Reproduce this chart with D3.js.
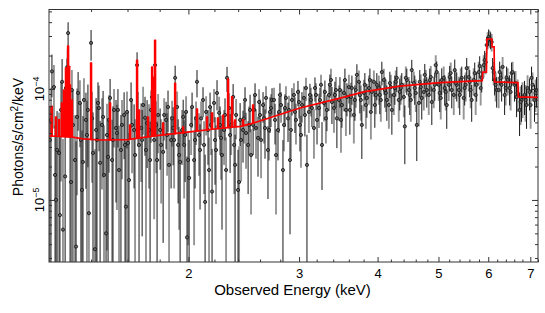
<!DOCTYPE html>
<html><head><meta charset="utf-8">
<script src="https://cdn.jsdelivr.net/npm/d3@7"></script>
<style>
html,body{margin:0;padding:0;background:#fff}
svg{display:block}
text{font-family:"Liberation Sans",Arial,Helvetica,sans-serif;fill:#000}
</style>
</head><body>
<svg id="chart" width="545" height="313"></svg>
<script>
// ---------------- DATA (energy in keV, flux in units of 1e-5 photons/s/cm^2/keV) ----------------
const FLUX_UNIT = 1e-5;

// dataset A (dark error bars)
const energyA = [1.204,1.213,1.227,1.236,1.249,1.259,1.273,1.282,1.287,1.301,1.310,1.325,1.335,1.349,1.359,1.374,1.384,1.400,1.410,1.426,1.436,1.447,1.463,1.479,1.490,1.501,1.517,1.534,1.545,1.562,1.580,1.591,1.603,1.621,1.639,1.657,1.669,1.688,1.706,1.719,1.738,1.751,1.770,1.783,1.803,1.823,1.843,1.856,1.877,1.891,1.905,1.926,1.940,1.962,1.976,1.990,2.005,2.027,2.049,2.064,2.087,2.110,2.126,2.149,2.165,2.181,2.205,2.221,2.246,2.262,2.287,2.304,2.330,2.356,2.373,2.399,2.417,2.443,2.461,2.489,2.507,2.535,2.553,2.581,2.600,2.629,2.648,2.677,2.697,2.717,2.747,2.777,2.797,2.828,2.849,2.881,2.902,2.923,2.955,2.988,3.010,3.032,3.065,3.088,3.122,3.145,3.180,3.204,3.239,3.263,3.298,3.322,3.359,3.384,3.421,3.446,3.485,3.510,3.549,3.575,3.614,3.641,3.681,3.708,3.749,3.776,3.818,3.846,3.889,3.917,3.960,3.989,4.033,4.063,4.108,4.138,4.184,4.215,4.261,4.292,4.339,4.371,4.420,4.452,4.501,4.534,4.584,4.618,4.669,4.703,4.755,4.790,4.843,4.879,4.932,4.968,5.023,5.060,5.116,5.154,5.210,5.249,5.307,5.346,5.405,5.445,5.504,5.545,5.606,5.647,5.710,5.751,5.815,5.858,5.922,5.966,6.009,6.053,6.098,6.142,6.188,6.256,6.302,6.371,6.418,6.489,6.536,6.608,6.657,6.730,6.779,6.854,6.904,6.981,7.032,7.109,7.161];
const fluxA = [3.47,14.4,1.68,2.82,0.73,11.6,1.63,12.8,31.9,1.45,4.74,0.38,9.2,3.47,2.2,5.26,6.47,26.0,2.65,4.27,7.48,2.16,5.6,0.5,2.44,8.3,3.47,4.45,6.47,2.82,5.83,0.87,3.26,7.96,4.27,16.4,3.13,3.47,5.5,4.94,2.29,8.47,16.4,2.29,4.27,2.71,5.26,6.88,3.47,4.45,12.6,3.13,2.2,5.6,3.85,0.46,1.58,6.88,3.47,11.6,2.82,7.96,0.96,4.27,6.88,1.19,3.47,9.2,4.74,2.54,5.83,12.6,3.85,8.47,2.07,1.23,5.26,4.27,7.96,3.13,6.47,4.74,8.83,3.62,5.83,7.17,4.45,2.82,6.21,7.96,5.26,4.27,8.83,1.86,6.74,5.43,2.29,7.96,6.21,9.4,4.74,7.17,5.83,2.07,8.83,6.74,10.2,5.26,7.96,3.13,9.4,6.47,10.9,7.63,8.83,5.43,9.79,7.17,12.05,8.47,6.47,10.2,7.96,13.4,8.83,4.74,10.9,8.3,12.05,9.4,7.17,10.9,8.83,14.2,9.79,7.96,11.3,6.47,10.2,12.6,9.4,10.9,4.6,12.05,8.83,14.8,10.2,4.74,11.6,8.3,13.4,9.79,12.05,7.63,10.9,14.2,9.2,12.05,10.2,7.17,12.8,9.79,14.8,10.9,8.83,12.6,10.2,15.4,11.6,7.96,13.9,10.9,16.1,12.6,18.2,24.9,29.4,27.6,15.4,12.05,9.79,14.2,10.9,8.83,12.6,10.2,13.9,10.9,8.47,6.47,7.96,8.83,7.17,9.4,12.6,7.96,9.79];
const errA = [3.5,6,3,3.5,3,7,4,6,8,3.5,5,3,5,4,3.5,4,4.5,8,3.5,4,4,3,4,3,3,4,3.5,3.5,3.5,3,3.5,2.5,3,3.5,3,5,3,3,3,3,2.8,3.5,5,2.8,
  2.4,2.3,2.4,2.8,2.2,2.4,3.6,2.2,2.0,2.4,2.4,2.0,1.9,2.4,2.2,3.2,2.0,2.4,1.6,2.2,2.4,1.7,2.1,2.8,2.2,2.0,2.4,3.2,2.1,2.6,1.8,1.6,2.2,2.1,2.4,2.0,2.4,2.2,2.4,2.0,2.2,2.2,2.1,1.8,2.2,2.2,2.1,2.0,2.4,1.6,2.2,2.1,1.8,2.2,2.2,2.4,2.0,2.2,2.1,1.8,2.3,2.2,2.5,2.1,2.3,1.9,2.5,2.3,2.6,
  2.8,2.8,2.5,3,2.7,3.2,2.8,2.6,3,2.8,3.3,2.8,2.4,3,2.8,3.2,2.9,2.7,3,2.9,3.4,3,2.8,3,2.6,3,3.2,3,3,2.5,3.2,3,3.5,3,2.5,3.2,3,3.4,3,3.2,2.9,3.1,3.5,3,3.3,3.1,2.8,3.3,3.1,3.6,3.2,3,3.3,3.1,3.6,3.2,2.9,3.4,3.2,3.6,3.3,3.8,4.5,5,4.8,3.6,3.3,3,3.4,3.2,3,3.3,3.1,3.4,3.2,2.9,2.7,2.9,3,2.8,3,3.3,2.9,3];

// dataset B (grey error bars)
const energyB = [1.209,1.222,1.231,1.245,1.254,1.263,1.277,1.285,1.296,1.305,1.320,1.330,1.344,1.354,1.364,1.379,1.389,1.405,1.420,1.431,1.441,1.457,1.468,1.484,1.495,1.512,1.523,1.539,1.551,1.568,1.585,1.597,1.609,1.627,1.645,1.663,1.682,1.694,1.712,1.731,1.744,1.764,1.777,1.790,1.810,1.830,1.850,1.863,1.884,1.898,1.919,1.933,1.954,1.969,1.983,1.998,2.020,2.042,2.057,2.079,2.095,2.118,2.134,2.157,2.173,2.197,2.213,2.238,2.254,2.279,2.296,2.321,2.339,2.365,2.382,2.408,2.426,2.452,2.470,2.498,2.516,2.544,2.562,2.591,2.610,2.638,2.658,2.687,2.707,2.737,2.757,2.787,2.808,2.839,2.859,2.891,2.912,2.944,2.966,2.999,3.021,3.054,3.077,3.110,3.133,3.168,3.192,3.227,3.251,3.286,3.310,3.347,3.372,3.409,3.434,3.472,3.498,3.536,3.562,3.601,3.627,3.667,3.694,3.735,3.762,3.804,3.832,3.875,3.903,3.946,3.975,4.018,4.048,4.093,4.123,4.169,4.199,4.246,4.276,4.323,4.355,4.404,4.436,4.485,4.518,4.567,4.601,4.652,4.686,4.738,4.773,4.825,4.861,4.914,4.950,5.005,5.042,5.097,5.135,5.191,5.229,5.288,5.326,5.385,5.425,5.484,5.524,5.585,5.626,5.689,5.730,5.794,5.836,5.900,5.944,5.987,6.031,6.076,6.120,6.165,6.233,6.279,6.325,6.395,6.442,6.513,6.560,6.632,6.681,6.755,6.804,6.879,6.930,7.007,7.058,7.135];
const fluxB = [5.26,10.4,1.0,2.65,6.47,0.54,10.2,15.8,4.27,9.79,2.29,5.6,7.48,1.23,7.96,3.85,0.76,5.43,0.36,3.47,6.74,4.74,1.68,3.85,5.26,2.29,6.47,4.01,1.86,4.74,3.13,6.21,1.51,4.74,2.54,6.21,4.45,7.17,2.82,4.27,6.47,3.47,4.74,5.83,3.13,5.83,3.85,2.07,5.43,3.47,6.88,2.54,4.27,3.13,6.21,2.29,4.74,2.29,5.43,3.85,5.43,3.13,6.21,1.86,4.74,7.48,2.82,6.1,3.62,4.27,1.86,6.74,4.74,3.13,5.83,1.45,3.47,5.43,4.01,4.74,2.54,6.47,4.45,7.63,3.47,5.43,8.3,4.27,6.74,7.96,2.54,6.21,7.17,4.74,8.3,6.47,4.27,8.83,5.26,7.63,3.85,8.3,10.2,6.21,7.96,4.45,8.83,6.74,10.9,7.48,5.43,8.83,12.05,6.74,9.79,7.96,5.26,9.2,6.47,10.4,8.47,5.83,9.79,11.6,7.96,9.2,7.17,10.2,6.21,11.6,8.83,10.2,7.96,12.05,9.2,7.17,10.4,8.83,11.6,7.96,10.2,8.47,12.6,9.79,7.96,11.3,9.2,7.48,10.4,9.4,11.6,8.83,12.8,9.79,16.4,10.9,8.3,12.6,9.4,10.9,13.9,8.83,11.3,9.79,12.05,8.3,10.9,12.8,9.79,12.05,8.83,14.2,10.2,16.4,17.4,27.6,28.5,26.5,14.2,10.9,9.79,12.6,15.8,10.2,12.05,9.4,14.2,11.3,9.2,7.63,8.47,7.96,10.2,7.17,10.9,9.2];
const errB = [5,6,3,3.5,5,3,6,7,4.5,5,3.5,4.5,4.5,3,4.5,4,2.8,4,2.5,3.5,4,3.5,3,3.5,3.5,3,3.5,3.2,2.8,3.2,3,3.3,2.5,3,2.8,3.2,3,3.3,2.7,3,3.2,2.8,3,3.2,
  2.2,2.4,2.2,1.9,2.4,2.2,2.6,2.0,2.2,2.1,2.4,1.9,2.2,1.9,2.3,2.2,2.3,2.0,2.4,1.8,2.2,2.5,1.9,2.4,2.1,2.2,1.8,2.4,2.2,2.0,2.3,1.6,2.0,2.2,2.1,2.2,1.8,2.3,2.1,2.3,1.9,2.2,2.3,2.0,2.2,2.3,1.8,2.2,2.2,2.0,2.3,2.2,1.9,2.4,2.1,2.2,1.9,2.3,2.4,2.2,2.3,2.1,2.4,2.3,2.5,2.4,2.2,2.5,
  3.2,2.7,3,2.8,2.6,2.9,2.7,3,2.9,2.6,3,3.1,2.8,2.9,2.8,3,2.7,3.1,2.9,3,2.9,3.2,3,2.8,3,3,3.1,2.9,3,2.9,3.3,3,2.9,3.1,3,2.9,3.1,3,3.2,3,3.3,3.1,3.7,3.1,3,3.3,3,3.1,3.4,3,3.2,3.1,3.3,3,3.2,3.3,3.1,3.3,3,3.4,3.1,3.7,3.8,4.8,5,4.7,3.4,3.2,3.1,3.3,3.6,3.1,3.3,3,3.4,3.2,3,2.9,3,2.9,3.1,2.8,3.2,3];

// model continuum (vertices, includes the Fe K step profile)
const modelE = [1.2,1.3,1.36,1.45,1.6,1.78,2.01,2.2,2.42,2.51,3.01,3.5,3.8,4.34,5.02,5.87,5.88,5.96,5.97,6.08,6.085,6.13,6.14,6.69,6.70,7.2];
const modelF = [3.77,3.70,3.55,3.47,3.50,3.80,4.10,4.36,4.60,4.84,6.74,8.30,9.40,10.6,11.4,11.9,14.2,14.2,28.2,28.2,23.9,23.9,11.6,11.4,8.5,8.4];

// model narrow emission lines: energy, continuum level beneath, peak
const lineE    = [1.212,1.231,1.245,1.258,1.268,1.277,1.287,1.292,1.296,1.305,1.400,1.501,1.615,1.657,1.669,1.725,1.751,1.757,1.770,1.823,1.905,1.962,2.064,2.141,2.181,2.229,2.271,2.313,2.347,2.373,2.443,2.535];
const lineBase = [3.76,3.75,3.74,3.73,3.72,3.71,3.71,3.70,3.70,3.69,3.50,3.47,3.52,3.60,3.62,3.70,3.75,3.76,3.78,3.85,3.95,4.03,4.17,4.28,4.33,4.39,4.45,4.50,4.54,4.57,4.65,4.90];
const linePeak = [7.0,5.6,5.3,7.5,9.8,15.5,24.4,16.0,10.9,7.96,17.2,7.48,4.74,18.2,6.47,5.6,15.8,12.8,27.6,4.94,11.3,4.55,6.6,5.6,6.1,5.5,5.8,12.3,8.5,5.26,5.3,7.17];

// axis ticks
const xMajorTicks = [2,3,4,5,6,7];
const xMinorTicks = [1.4,1.6,1.8,2.2,2.4,2.6,2.8,3.2,3.4,3.6,3.8,4.2,4.4,4.6,4.8,5.2,5.4,5.6,5.8,6.2,6.4,6.6,6.8,7.2];
const yMajorTicks = [1e-5,1e-4];
const yMajorExp = ["\u22125","\u22124"];
const yMinorTicks = [3e-6,4e-6,5e-6,6e-6,7e-6,8e-6,9e-6,2e-5,3e-5,4e-5,5e-5,6e-5,7e-5,8e-5,9e-5,2e-4,3e-4,4e-4,5e-4];

// ---------------- LAYOUT ----------------
const L = 49, R = 538, T = 9.5, B = 262;
const svg = d3.select("#chart");
const x = d3.scaleLog().domain([1.2, 7.2]).range([L, R]);
const y = d3.scaleLog().domain([2.76e-6, 5.2e-4]).range([B, T]);
const yMin = y.domain()[0];

svg.append("defs").append("clipPath").attr("id","plotclip")
  .append("rect").attr("x",L).attr("y",T).attr("width",R-L).attr("height",B-T);
const plot = svg.append("g").attr("clip-path","url(#plotclip)");

function makeSet(E, F, S) {
  return E.map((e,i)=>({e, f:F[i]*FLUX_UNIT, s:S[i]*FLUX_UNIT}));
}
const setA = makeSet(energyA, fluxA, errA);
const setB = makeSet(energyB, fluxB, errB);

function bars(set, color, width) {
  plot.append("g").selectAll("line").data(set).join("line")
    .attr("x1", d=>x(d.e)).attr("x2", d=>x(d.e))
    .attr("y1", d=>y(d.f + d.s))
    .attr("y2", d=>y(Math.max(d.f - d.s, yMin*0.5)))
    .attr("stroke", color).attr("stroke-width", width);
}
bars(setB, "#959595", 1.9);
bars(setA, "#161616", 1.0);

const pts = setA.concat(setB);
plot.append("g").selectAll("circle").data(pts).join("circle")
  .attr("cx", d=>x(d.e)).attr("cy", d=>y(d.f)).attr("r", 1.6)
  .attr("fill", "#666").attr("stroke", "#111").attr("stroke-width", 0.8);

// model
const model = modelE.map((e,i)=>({e, f:modelF[i]*FLUX_UNIT}));
plot.append("path").datum(model)
  .attr("d", d3.line().x(d=>x(d.e)).y(d=>y(d.f)))
  .attr("fill","none").attr("stroke","#ff0000").attr("stroke-width",1.7);
const lines = lineE.map((e,i)=>({e, b:lineBase[i]*FLUX_UNIT, p:linePeak[i]*FLUX_UNIT}));
plot.append("g").selectAll("path").data(lines).join("path")
  .attr("d", d=>{
    const x0 = x(d.e) - 0.6, x1 = x(d.e) + 0.6;
    return `M${x0},${y(d.b)}L${x0},${y(d.p)}L${x1},${y(d.p)}L${x1},${y(d.b)}Z`;
  })
  .attr("fill","#ff0000").attr("stroke","#ff0000").attr("stroke-width",1.3).attr("stroke-linejoin","round");

// ---------------- AXES ----------------
const axisColor = "#333";
function styleAxis(g){ g.select(".domain").remove(); g.selectAll(".tick line").attr("stroke",axisColor); }

svg.append("g").attr("transform",`translate(0,${B})`)
  .call(d3.axisBottom(x).tickValues(xMajorTicks).tickSize(-5).tickPadding(7).tickFormat(d3.format("d")))
  .call(styleAxis)
  .call(g=>g.selectAll("text").attr("font-size",13).attr("fill","#000")
        .attr("font-family",'"Liberation Sans",Arial,sans-serif'));
svg.append("g").attr("transform",`translate(0,${B})`)
  .call(d3.axisBottom(x).tickValues(xMinorTicks).tickSize(-2.5).tickFormat(""))
  .call(styleAxis);
svg.append("g").attr("transform",`translate(0,${T})`)
  .call(d3.axisTop(x).tickValues(xMajorTicks).tickSize(-5).tickFormat(""))
  .call(styleAxis);
svg.append("g").attr("transform",`translate(0,${T})`)
  .call(d3.axisTop(x).tickValues(xMinorTicks).tickSize(-2.5).tickFormat(""))
  .call(styleAxis);

svg.append("g").attr("transform",`translate(${L},0)`)
  .call(d3.axisLeft(y).tickValues(yMajorTicks).tickSize(-6).tickFormat(""))
  .call(styleAxis);
svg.append("g").attr("transform",`translate(${L},0)`)
  .call(d3.axisLeft(y).tickValues(yMinorTicks).tickSize(-3).tickFormat(""))
  .call(styleAxis);
svg.append("g").attr("transform",`translate(${R},0)`)
  .call(d3.axisRight(y).tickValues(yMajorTicks).tickSize(-6).tickFormat(""))
  .call(styleAxis);
svg.append("g").attr("transform",`translate(${R},0)`)
  .call(d3.axisRight(y).tickValues(yMinorTicks).tickSize(-3).tickFormat(""))
  .call(styleAxis);

// y tick labels: rotated 10^n
yMajorTicks.forEach((v,i)=>{
  const t = svg.append("text")
    .attr("transform",`translate(43.5,${y(v)}) rotate(-90)`)
    .attr("text-anchor","middle").attr("font-size",13);
  t.append("tspan").text("10");
  t.append("tspan").attr("dy",-5).attr("font-size",9).text(yMajorExp[i]);
});

// frame
svg.append("rect").attr("x",L).attr("y",T).attr("width",R-L).attr("height",B-T)
  .attr("fill","none").attr("stroke",axisColor).attr("stroke-width",1);

// titles
svg.append("text").attr("x",292.5).attr("y",295).attr("text-anchor","middle")
  .attr("font-size",15).text("Observed Energy (keV)");
const yt = svg.append("text").attr("transform","translate(23,137) rotate(-90)")
  .attr("text-anchor","middle").attr("font-size",14);
yt.append("tspan").text("Photons/s/cm");
yt.append("tspan").attr("dy",-5).attr("font-size",10).text("2");
yt.append("tspan").attr("dy",5).text("/keV");
</script>
</body></html>
